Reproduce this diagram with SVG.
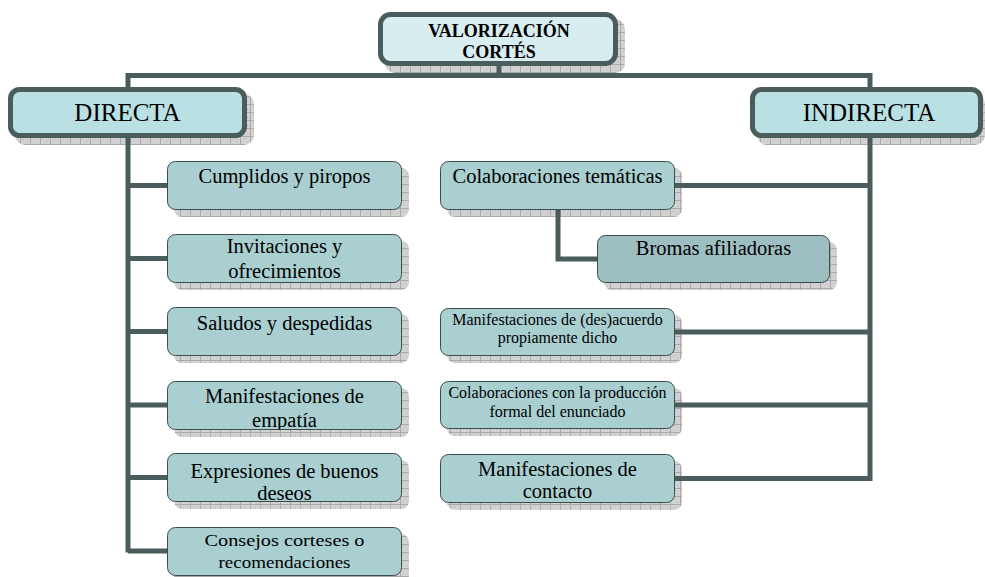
<svg xmlns="http://www.w3.org/2000/svg" width="985" height="577" viewBox="0 0 985 577">
  <defs>
    <!-- hatched drop-shadow fill -->
    <pattern id="hatch" width="10" height="8" patternUnits="userSpaceOnUse">
      <rect width="10" height="8" fill="#d2d2d2"/>
      <path d="M0 0.5H10M0.5 0V8" stroke="#a9a9a9" stroke-width="1"/>
      <path d="M3 3h1v1h-1zM7 5h1v1h-1zM5 2h1v1h-1z" fill="#bdbdbd"/>
    </pattern>
    <clipPath id="clip-empatia">
      <rect x="167.5" y="381.5" width="234" height="48" rx="8"/>
    </clipPath>
    <style>
      .shadow { fill: url(#hatch); }
      .main { fill: #b9e0e3; stroke: #4b5c5c; stroke-width: 5; }
      .root { fill: #d8edef; stroke: #4b5c5c; stroke-width: 5; }
      .leaf { fill: #a9cfd1; stroke: #3c4b4b; stroke-width: 1; }
      .leaf2 { fill: #9ebfc1; stroke: #3c4b4b; stroke-width: 1; }
      .link { fill: none; stroke: #4b5c5c; stroke-width: 5; }
      text { font-family: "Liberation Serif", "Times New Roman", serif; fill: #000; text-anchor: middle; }
      .big { font-size: 25px; }
      .lbl { font-size: 20.5px; }
      .sm { font-size: 16px; }
      .title { font-size: 18px; font-weight: bold; }
    </style>
  </defs>

  <!-- drop shadows -->
  <g id="shadows">
    <rect class="shadow" x="385" y="19" width="240" height="54" rx="10"/>
    <rect class="shadow" x="15" y="94" width="239" height="51" rx="10"/>
    <rect class="shadow" x="757" y="94" width="228" height="51" rx="10"/>
    <rect class="shadow" x="174" y="168" width="235" height="49" rx="8"/>
    <rect class="shadow" x="174" y="241" width="235" height="49" rx="8"/>
    <rect class="shadow" x="174" y="314" width="235" height="49" rx="8"/>
    <rect class="shadow" x="174" y="388" width="235" height="49" rx="8"/>
    <rect class="shadow" x="174" y="460" width="235" height="49" rx="8"/>
    <rect class="shadow" x="174" y="534" width="235" height="49" rx="8"/>
    <rect class="shadow" x="447" y="168" width="235" height="49" rx="8"/>
    <rect class="shadow" x="604" y="242" width="233" height="48" rx="8"/>
    <rect class="shadow" x="447" y="315" width="235" height="48" rx="8"/>
    <rect class="shadow" x="447" y="388" width="235" height="48" rx="8"/>
    <rect class="shadow" x="447" y="461" width="235" height="49" rx="8"/>
  </g>

  <!-- connectors -->
  <g id="connectors">
    <path class="link" d="M499 64V75.5M128 138V75.5H870V138"/>
    <path class="link" d="M128 138V552.5"/>
    <path class="link" d="M128 185.5H168M128 258.5H168M128 331.5H168M128 405H168M128 477.5H168M128 551H168"/>
    <path class="link" d="M870 138V481"/>
    <path class="link" d="M675 185.5H870M675 332H870M675 405H870M675 478.5H870"/>
    <path class="link" d="M558 210V259H598"/>
  </g>

  <g id="valorizacion">
    <rect class="root" x="380.5" y="14.5" width="235" height="49" rx="10"/>
    <text class="title" x="499" y="37">VALORIZACIÓN</text>
    <text class="title" x="499" y="58">CORTÉS</text>
  </g>

  <g id="directa">
    <rect class="main" x="10.5" y="89.5" width="234" height="46" rx="9"/>
    <text class="big" x="127.5" y="121">DIRECTA</text>
  </g>

  <g id="indirecta">
    <rect class="main" x="752.5" y="89.5" width="228" height="46" rx="9"/>
    <text class="big" x="869" y="121">INDIRECTA</text>
  </g>

  <g id="cumplidos">
    <rect class="leaf" x="167.5" y="161.5" width="234" height="48" rx="8"/>
    <text class="lbl" x="284.5" y="183">Cumplidos y piropos</text>
  </g>

  <g id="invitaciones">
    <rect class="leaf" x="167.5" y="234.5" width="234" height="48" rx="8"/>
    <text class="lbl" x="284.5" y="253">Invitaciones y</text>
    <text class="lbl" x="284.5" y="278">ofrecimientos</text>
  </g>

  <g id="saludos">
    <rect class="leaf" x="167.5" y="307.5" width="234" height="48" rx="8"/>
    <text class="lbl" x="284.5" y="330">Saludos y despedidas</text>
  </g>

  <g id="empatia">
    <rect class="leaf" x="167.5" y="381.5" width="234" height="48" rx="8"/>
    <g clip-path="url(#clip-empatia)">
      <text class="lbl" x="284.5" y="403">Manifestaciones de</text>
      <text class="lbl" x="284.5" y="427">empatía</text>
    </g>
  </g>

  <g id="expresiones">
    <rect class="leaf" x="167.5" y="453.5" width="234" height="48" rx="8"/>
    <text class="lbl" x="284.5" y="478">Expresiones de buenos</text>
    <text class="lbl" x="284.5" y="500">deseos</text>
  </g>

  <g id="consejos">
    <rect class="leaf" x="167.5" y="527.5" width="234" height="48" rx="8"/>
    <text x="284.5" y="546" font-size="17.5" textLength="160" lengthAdjust="spacingAndGlyphs">Consejos corteses o</text>
    <text x="284.5" y="568" font-size="17.5" textLength="132" lengthAdjust="spacingAndGlyphs">recomendaciones</text>
  </g>

  <g id="tematicas">
    <rect class="leaf" x="440.5" y="161.5" width="234" height="48" rx="8"/>
    <text class="lbl" x="557.5" y="183">Colaboraciones temáticas</text>
  </g>

  <g id="bromas">
    <rect class="leaf2" x="597.5" y="235.5" width="232" height="47" rx="8"/>
    <text class="lbl" x="713.5" y="255">Bromas afiliadoras</text>
  </g>

  <g id="desacuerdo">
    <rect class="leaf" x="440.5" y="308.5" width="234" height="47" rx="8"/>
    <text class="sm" x="557.5" y="325">Manifestaciones de (des)acuerdo</text>
    <text class="sm" x="557.5" y="343">propiamente dicho</text>
  </g>

  <g id="produccion">
    <rect class="leaf" x="440.5" y="381.5" width="234" height="47" rx="8"/>
    <text class="sm" x="557.5" y="398">Colaboraciones con la producción</text>
    <text class="sm" x="557.5" y="417">formal del enunciado</text>
  </g>

  <g id="contacto">
    <rect class="leaf" x="440.5" y="454.5" width="234" height="48" rx="8"/>
    <text class="lbl" x="557.5" y="476">Manifestaciones de</text>
    <text class="lbl" x="557.5" y="498">contacto</text>
  </g>
</svg>
